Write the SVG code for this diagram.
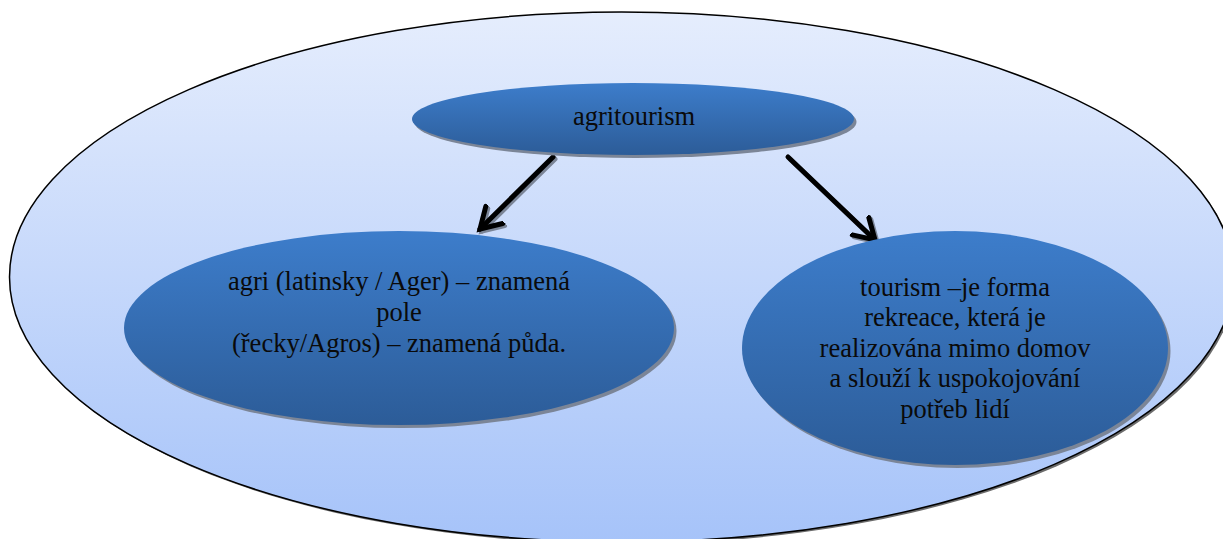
<svg xmlns="http://www.w3.org/2000/svg" width="1223" height="539" viewBox="0 0 1223 539">
<style>
.lbl{font-family:"Liberation Serif","Times New Roman",serif;font-size:26.5px;fill:#0a0a0a;text-anchor:middle}
.node{fill:url(#nodeGrad)}
.shadow{fill:#7b8597}
.conn{stroke:#000;stroke-width:5;fill:none;stroke-linecap:round}
.connShadow{stroke:#7b8597;stroke-width:5;fill:none;stroke-linecap:round}
</style>
<defs>
<linearGradient id="outerGrad" x1="0" y1="0" x2="0" y2="1">
<stop offset="0" stop-color="#e5edfd"/>
<stop offset="1" stop-color="#a6c3f9"/>
</linearGradient>
<linearGradient id="nodeGrad" x1="0" y1="0" x2="0" y2="1">
<stop offset="0" stop-color="#3d7dcb"/>
<stop offset="1" stop-color="#2c5c98"/>
</linearGradient>
<marker id="arrow" markerUnits="userSpaceOnUse" markerWidth="40" markerHeight="40" refX="22" refY="14" orient="auto" viewBox="0 0 40 28">
<path d="M2,2 L22,14 L2,26" fill="none" stroke="#000" stroke-width="5" stroke-linecap="round" stroke-linejoin="miter"/>
</marker>
<marker id="arrowShadow" markerUnits="userSpaceOnUse" markerWidth="40" markerHeight="40" refX="22" refY="14" orient="auto" viewBox="0 0 40 28">
<path d="M2,2 L22,14 L2,26" fill="none" stroke="#7b8597" stroke-width="5" stroke-linecap="round"/>
</marker>
</defs>
<g id="container">
<ellipse cx="623.5" cy="279" rx="612" ry="265" fill="#6b6b6b"/>
<ellipse cx="621.5" cy="277" rx="612" ry="265" fill="url(#outerGrad)" stroke="#000" stroke-width="1.5"/>
</g>
<g id="connectors">
<line class="connShadow" x1="555" y1="159" x2="482" y2="231" marker-end="url(#arrowShadow)"/>
<line class="connShadow" x1="790" y1="159" x2="877" y2="242" marker-end="url(#arrowShadow)"/>
<line class="conn" x1="553" y1="157" x2="480" y2="229" marker-end="url(#arrow)"/>
<line class="conn" x1="788" y1="157" x2="875" y2="240" marker-end="url(#arrow)"/>
</g>
<g id="node-agritourism">
<ellipse class="shadow" cx="635.5" cy="122" rx="221" ry="36"/>
<ellipse class="node" cx="633" cy="119" rx="221" ry="36"/>
<text class="lbl" x="634" y="125">agritourism</text>
</g>
<g id="node-agri">
<ellipse class="shadow" cx="401.5" cy="331" rx="275" ry="97"/>
<ellipse class="node" cx="399" cy="328" rx="275" ry="97"/>
<text class="lbl" x="399" y="290">agri (latinsky / Ager) – znamená</text>
<text class="lbl" x="399" y="321">pole</text>
<text class="lbl" x="399" y="352">(řecky/Agros) – znamená půda.</text>
</g>
<g id="node-tourism">
<ellipse class="shadow" cx="957.5" cy="351" rx="213" ry="117"/>
<ellipse class="node" cx="955" cy="348" rx="213" ry="117"/>
<text class="lbl" x="955" y="296">tourism –je forma</text>
<text class="lbl" x="955" y="326">rekreace, která je</text>
<text class="lbl" x="955" y="357">realizována mimo domov</text>
<text class="lbl" x="955" y="387">a slouží k uspokojování</text>
<text class="lbl" x="955" y="418">potřeb lidí</text>
</g>
</svg>
